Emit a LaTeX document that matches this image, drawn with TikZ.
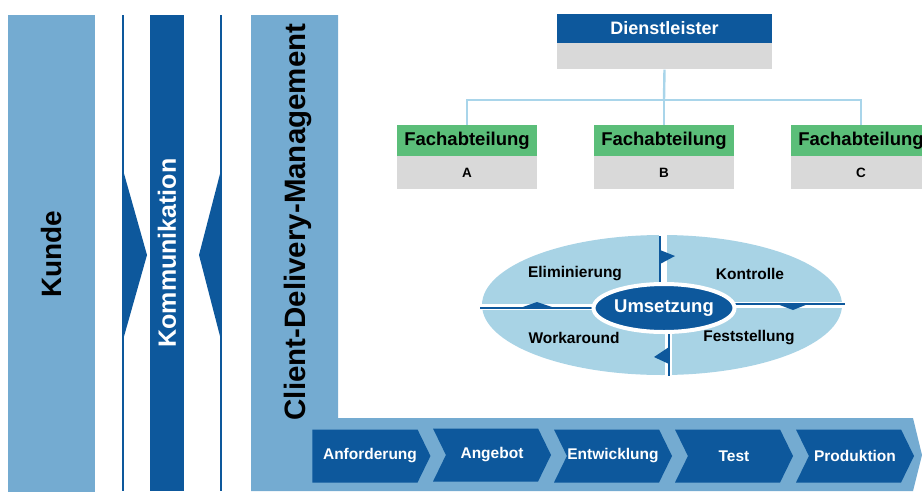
\documentclass[tikz,border=0pt]{standalone}
\usepackage{fontspec}
\setmainfont{Liberation Sans}
\usetikzlibrary{positioning,shapes.geometric,shapes.symbols}
\definecolor{BarBlue}{HTML}{74ABD1}
\definecolor{DarkBlue}{HTML}{0D589C}
\definecolor{PaleBlue}{HTML}{A8D3E5}
\definecolor{LineBlue}{HTML}{A9D5EA}
\definecolor{DeptGreen}{HTML}{5BBE79}
\definecolor{BoxGray}{HTML}{D9D9D9}
\begin{document}
\begin{tikzpicture}[x=1pt,y=-1pt]
			\tikzset{
			  BarStyle/.style = { fill = BarBlue, inner sep = 0pt, rotate = 90,
			                      font = \bfseries\fontsize{28}{30}\selectfont },
			  HeadStyle/.style = { fill = DarkBlue, text = white, inner sep = 0pt,
			                       minimum width = 215pt, minimum height = 29pt,
			                       font = \bfseries\fontsize{18}{20}\selectfont },
			  DeptStyle/.style = { fill = DeptGreen, inner sep = 0pt,
			                       minimum width = 140pt, minimum height = 31pt,
			                       font = \bfseries\fontsize{18.5}{20}\selectfont },
			  SubStyle/.style = { fill = BoxGray, inner sep = 0pt,
			                      minimum width = 140pt, minimum height = 33pt,
			                      font = \bfseries\fontsize{13.5}{15}\selectfont },
			  TreeStyle/.style = { draw = LineBlue, line width = 1.6pt },
			  PhaseStyle/.style = { font = \bfseries\fontsize{15.5}{17}\selectfont },
			  ChevStyle/.style = { shape = signal, signal to = east, signal from = west,
			                       signal pointer angle = 128, fill = DarkBlue,
			                       text = white, inner sep = 0pt,
			                       minimum width = 118pt, minimum height = 53pt,
			                       font = \bfseries\fontsize{15.5}{17}\selectfont },
			  FlagStyle/.style = { fill = DarkBlue } }
			\useasboundingbox (0,0) rectangle (922,491);
			\clip (0,0) rectangle (922,491);
			% left columns
			\node[BarStyle, minimum width = 478pt, minimum height = 87pt] (kunde) at (51.5,254) {Kunde};
			\draw[DarkBlue, line width = 1.4pt] (123,15) -- (123,491) (221,15) -- (221,491);
			\fill[DarkBlue] (123,170) -- (147,255) -- (123,340) -- cycle;
			\fill[DarkBlue] (221,170) -- (199,255) -- (221,340) -- cycle;
			\node[BarStyle, fill = DarkBlue, text = white, minimum width = 476pt,
			      minimum height = 34pt, font = \bfseries\fontsize{25}{27}\selectfont] (komm) at (167,253) {Kommunikation};
			\fill[BarBlue] (251,15) -- (338,15) -- (338,418) -- (913,418) -- (922,455)
			               -- (913,491) -- (251,491) -- cycle;
			\node[rotate = 90, anchor = base, inner sep = 0pt,
			      font = \bfseries\fontsize{29.5}{31}\selectfont] (cdm) at (305,222) {Client-Delivery-Management};
			% organisation
			\node[HeadStyle] (dl) at (664.5,28.5) {Dienstleister};
			\node[SubStyle, minimum width = 215pt, minimum height = 26pt, below = 0pt of dl] (dlsub) {};
			\node[DeptStyle] (faA) at (467,140.5) {Fachabteilung};
			\node[DeptStyle] (faB) at (664,140.5) {Fachabteilung};
			\node[DeptStyle] (faC) at (861,140.5) {Fachabteilung};
			\node[SubStyle, below = 0pt of faA] (subA) {A};
			\node[SubStyle, below = 0pt of faB] (subB) {B};
			\node[SubStyle, below = 0pt of faC] (subC) {C};
			\coordinate (bus) at (664,100);
			\draw[TreeStyle, line width = 2.4pt] (dlsub.south) -- (bus);
			\draw[TreeStyle] (bus) -| (faA.north);
			\draw[TreeStyle] (bus) -- (faB.north);
			\draw[TreeStyle] (bus) -| (faC.north);
			% cycle
			\fill[PaleBlue] (662,305) ellipse [x radius = 180, y radius = 70];
			\draw[white, line width = 8pt] (663,230) -- (663,306);
			\draw[white, line width = 7pt] (668,306) -- (668,380);
			\draw[white, line width = 6pt] (475,307) -- (662,307);
			\draw[white, line width = 6pt] (662,305) -- (850,305);
			\draw[DarkBlue, line width = 2pt] (660,236) -- (660,290) (669,325) -- (669,376)
			                                  (480,308) -- (600,308) (725,304) -- (845,304);
			\fill[FlagStyle] (660,250) -- (675,256) -- (660,264) -- cycle;
			\fill[FlagStyle] (669,347) -- (654,357) -- (669,364) -- cycle;
			\fill[FlagStyle] (520,308) -- (537,302) -- (555,308) -- cycle;
			\fill[FlagStyle] (777,304) -- (793,310) -- (808,304) -- cycle;
			\node[ellipse, fill = DarkBlue, draw = white, line width = 4pt, text = white,
			      minimum width = 136pt, minimum height = 48pt, inner sep = 0pt,
			      font = \bfseries\fontsize{18.5}{20}\selectfont] (ums) at (664,308) {Umsetzung};
			\node[PhaseStyle] (elim) at (575,274) {Eliminierung};
			\node[PhaseStyle] (kontr) at (750,274) {Kontrolle};
			\node[PhaseStyle] (worka) at (574,338) {Workaround};
			\node[PhaseStyle] (fest) at (749,338) {Feststellung};
			% process
			\node[ChevStyle, signal from = nowhere] (anf) at (365,456) {\hspace*{10pt}Anforderung};
			\node[ChevStyle] (ang) at (492,455) {Angebot};
			\node[ChevStyle] (entw) at (613,456) {Entwicklung};
			\node[ChevStyle] (test) at (734,456) {Test};
			\node[ChevStyle] (prod) at (855,456) {Produktion};
\end{tikzpicture}
\end{document}
